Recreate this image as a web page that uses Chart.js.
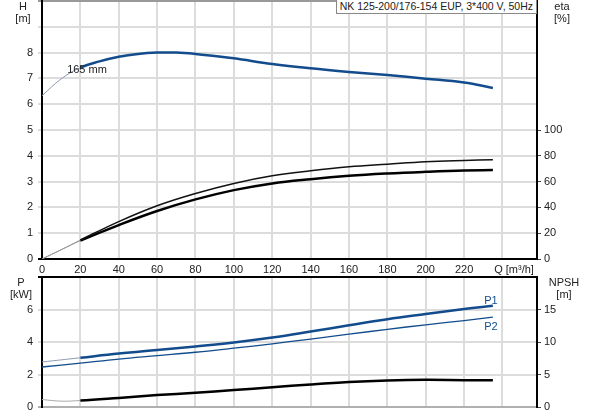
<!DOCTYPE html>
<html>
<head>
<meta charset="utf-8">
<script src="https://cdn.jsdelivr.net/npm/chart.js@4/dist/chart.umd.min.js"></script>
<style>
  body { margin: 0; background: #fff; }
  #wrap { position: relative; width: 593px; height: 415px; font-family: 'Liberation Sans', Arial, sans-serif; font-size: 11px; color: #222; }
  canvas { position: absolute; left: 0; }
  .lbl { position: absolute; transform: translate(-50%, -50%); white-space: nowrap; }
  #title { position: absolute; right: 56px; top: 0; height: 13px; line-height: 13px; padding: 0 3px; border: 1px solid #888; border-top: none; background: #fff; white-space: nowrap; font-size: 10.5px; }
</style>
</head>
<body>
<div id="wrap">
  <canvas id="top" width="593" height="276" style="top:0"></canvas>
  <canvas id="bottom" width="593" height="145" style="top:270px"></canvas>
  <div id="title">NK 125-200/176-154 EUP, 3*400 V, 50Hz</div>
  <div class="lbl" style="left:23px;top:6px">H</div>
  <div class="lbl" style="left:23px;top:18px">[m]</div>
  <div class="lbl" style="left:562px;top:6px">eta</div>
  <div class="lbl" style="left:562px;top:18px">[%]</div>
  <div class="lbl" style="left:87px;top:69px">165 mm</div>
  <div class="lbl" style="left:514px;top:269px">Q [m³/h]</div>
  <div class="lbl" style="left:21px;top:282px">P</div>
  <div class="lbl" style="left:21px;top:294px">[kW]</div>
  <div class="lbl" style="left:564px;top:282px">NPSH</div>
  <div class="lbl" style="left:564px;top:294px">[m]</div>
  <div class="lbl" style="left:491px;top:300px;color:#124c8c">P1</div>
  <div class="lbl" style="left:491px;top:326px;color:#124c8c">P2</div>
</div>
<script>
// flow axis (labels 0..220, the Q unit sits at 240)
var qTicks = [0, 20, 40, 60, 80, 100, 120, 140, 160, 180, 200, 220, 240];
var qMax = 258;

// head curve, 165 mm impeller
var qHead = [0, 10, 20, 30, 40, 50, 60, 70, 80, 90, 100, 120, 140, 160, 180, 200, 220, 235];
var head = [6.33, 6.98, 7.42, 7.66, 7.84, 7.95, 8.0, 8.0, 7.95, 7.87, 7.78, 7.56, 7.39, 7.25, 7.13, 6.99, 6.84, 6.63];

// efficiency curves [%]
var qEta = [0, 10, 20, 40, 60, 80, 100, 120, 140, 160, 180, 200, 220, 235];
var etaPump = [0, 7.3, 14.7, 29, 41.3, 50.8, 58.6, 64.5, 68.4, 71.5, 73.5, 75.4, 76.4, 76.9];
var etaTotal = [0, 7.1, 14.2, 26.3, 37.2, 46.2, 53.4, 58.6, 61.9, 64.5, 66.3, 67.6, 68.6, 68.9];

// power [kW]
var qPower = [0, 20, 40, 60, 80, 100, 120, 140, 160, 180, 200, 220, 235];
var p1 = [2.77, 3.03, 3.29, 3.51, 3.73, 3.97, 4.27, 4.64, 5.03, 5.4, 5.72, 6.03, 6.23];
var p2 = [2.46, 2.7, 2.95, 3.16, 3.37, 3.62, 3.89, 4.18, 4.48, 4.78, 5.06, 5.32, 5.53];

// NPSH [m]
var qNpsh = [0, 10, 20, 40, 60, 80, 100, 120, 140, 160, 180, 200, 220, 235];
var npsh = [1.15, 0.9, 1.0, 1.4, 1.83, 2.18, 2.6, 3.03, 3.48, 3.85, 4.08, 4.18, 4.13, 4.13];

var hTicks = [0, 1, 2, 3, 4, 5, 6, 7, 8, 9, 10];
var etaTicks = [0, 20, 40, 60, 80, 100];
var pTicks = [0, 2, 4, 6, 8];
var npshTicks = [0, 5, 10, 15];

var BLUE = '#124c8c';
var GRID = '#dcdcdc';
var FONT = { family: "'Liberation Sans', Arial, sans-serif", size: 11 };
var thinEnd = 20;

Chart.defaults.font = FONT;
Chart.defaults.color = '#222';

function pts(xs, ys) {
  return xs.map(function (x, i) { return { x: x, y: ys[i] }; });
}

function curve(xs, ys, color, width, axis, startColor) {
  return {
    data: pts(xs, ys),
    yAxisID: axis,
    borderColor: color,
    borderWidth: width,
    pointRadius: 0,
    fill: false,
    tension: 0.4,
    segment: startColor ? {
      borderColor: function (ctx) { return ctx.p1.parsed.x <= thinEnd ? startColor : undefined; },
      borderWidth: function (ctx) { return ctx.p1.parsed.x <= thinEnd ? 1 : undefined; }
    } : {}
  };
}

function setTicks(list) {
  return function (scale) { scale.ticks = list.map(function (v) { return { value: v }; }); };
}

// fixed axis sizes, no extra label padding so the plot areas line up
function fixSize(w, h) {
  return function (scale) {
    if (w !== null) scale.width = w;
    if (h !== null) scale.height = h;
    scale.paddingTop = 0;
    scale.paddingBottom = 0;
    scale.paddingLeft = 0;
    scale.paddingRight = 0;
  };
}

function xScale(showLabels, borderColor) {
  return {
    type: 'linear',
    min: 0,
    max: qMax,
    afterBuildTicks: setTicks(qTicks),
    afterFit: fixSize(null, showLabels ? 17 : 0),
    border: { color: borderColor, width: 2 },
    grid: {
      color: function (c) { return c.tick.value === 0 ? '#000' : GRID; },
      lineWidth: 2,
      drawTicks: false
    },
    ticks: {
      display: showLabels,
      padding: 4,
      maxRotation: 0,
      autoSkip: false,
      callback: function (v) { return v >= 240 ? '' : v; }
    }
  };
}

function leftScale(max, list, hideFrom, topColor, zeroColor) {
  return {
    position: 'left',
    min: 0,
    max: max,
    afterBuildTicks: setTicks(list),
    afterFit: fixSize(42, null),
    border: { color: '#000', width: 2 },
    grid: {
      color: function (c) {
        if (c.tick.value === max) return topColor;
        if (c.tick.value === 0) return zeroColor;
        return GRID;
      },
      lineWidth: 2,
      tickLength: 4
    },
    ticks: {
      padding: 5,
      callback: function (v) { return v >= hideFrom ? '' : v; }
    }
  };
}

function rightScale(max, list) {
  return {
    position: 'right',
    min: 0,
    max: max,
    afterBuildTicks: setTicks(list),
    afterFit: fixSize(56, null),
    border: { color: '#000', width: 2 },
    grid: { drawOnChartArea: false, color: '#444', lineWidth: 1, tickLength: 4 },
    ticks: { padding: 3 }
  };
}

new Chart(document.getElementById('top'), {
  type: 'line',
  data: {
    datasets: [
      curve(qHead, head, BLUE, 2.5, 'y', '#8d9ab2'),
      curve(qEta, etaPump, '#111', 1.5, 'y2', '#9a9a9a'),
      curve(qEta, etaTotal, '#000', 2.5, 'y2', '#9a9a9a')
    ]
  },
  options: {
    responsive: false,
    devicePixelRatio: 1,
    animation: false,
    layout: { padding: { top: 1, left: 0, right: 0, bottom: 0 } },
    plugins: { legend: { display: false }, tooltip: { enabled: false } },
    scales: {
      x: xScale(true, '#000'),
      y: leftScale(10, hTicks, 9, '#999', '#000'),
      y2: rightScale(200, etaTicks)
    }
  }
});

new Chart(document.getElementById('bottom'), {
  type: 'line',
  data: {
    datasets: [
      curve(qPower, p1, BLUE, 2.5, 'y', '#8d9ab2'),
      curve(qPower, p2, BLUE, 1.3, 'y'),
      curve(qNpsh, npsh, '#000', 2.5, 'y2', '#a8a8a8')
    ]
  },
  options: {
    responsive: false,
    devicePixelRatio: 1,
    animation: false,
    layout: { padding: { top: 7, left: 0, right: 0, bottom: 8 } },
    plugins: { legend: { display: false }, tooltip: { enabled: false } },
    scales: {
      x: xScale(false, '#b0b0b0'),
      y: leftScale(8, pTicks, 8, '#000', '#b0b0b0'),
      y2: rightScale(20, npshTicks)
    }
  }
});
</script>
</body>
</html>
